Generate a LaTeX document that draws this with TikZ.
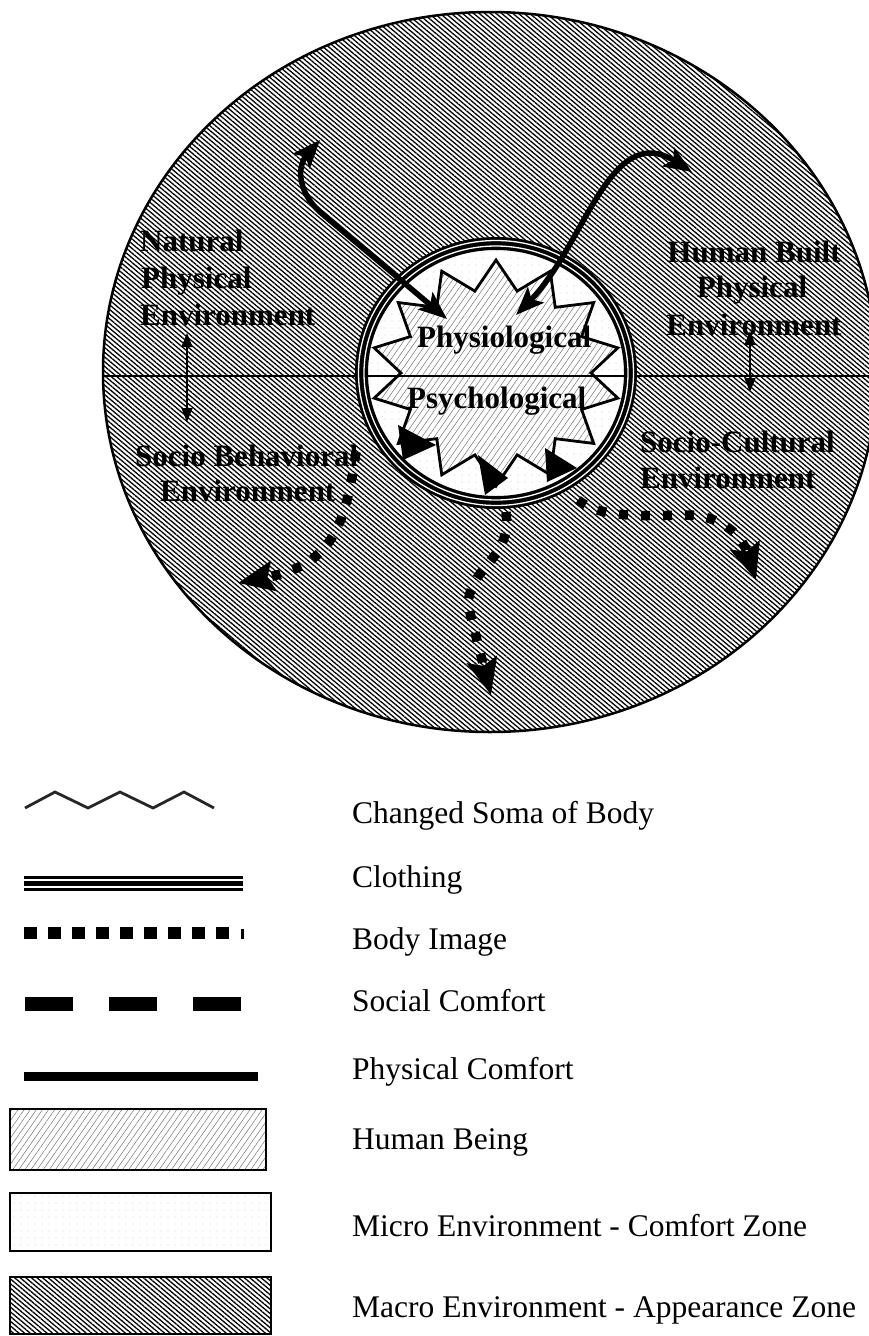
\documentclass[tikz,border=0pt]{standalone}
\usepackage{fontspec}
\setmainfont{Liberation Serif}
\usetikzlibrary{arrows.meta,patterns.meta}
\newcommand\mystarpath{(-90:125 and 113) \foreach \i in {0,...,13} { -- ({-90+\i*360/14}:125 and 113) -- ({-90+(\i+0.5)*360/14}:95 and 84) } -- cycle}
\begin{document}
\begin{tikzpicture}[x=1pt,y=-1pt,
  lab/.style={font=\bfseries\fontsize{31}{31}\selectfont, inner sep=0pt},
  leg/.style={font=\fontsize{31.5}{31.5}\selectfont, inner sep=0pt, anchor=west},
  macro/.style={pattern={Lines[angle=-40,distance=3.6pt,line width=1.3pt]}, pattern color=black},
  human/.style={pattern={Lines[angle=55,distance=5pt,line width=0.5pt]}, pattern color=black!55},
  micro/.style={pattern={Dots[distance=7pt,radius=0.45pt]}, pattern color=black!50},
  solidarrow/.style={line width=5.5pt, {Stealth[length=28pt,width=22pt,inset=6pt]}-{Stealth[length=28pt,width=22pt,inset=6pt]}},
  dotarrow/.style={line width=9.5pt, dash pattern=on 9pt off 13pt, -{Stealth[length=36pt,width=30pt,inset=6pt]}},
  thinarrow/.style={line width=1.5pt, {Triangle[length=14pt,width=11pt]}-{Triangle[length=14pt,width=11pt]}},
  boxframe/.style={line width=2.5pt},
]
\useasboundingbox (0,0) rectangle (868,1336);

% macro environment
\draw[line width=2.5pt, macro] (490,372) ellipse [x radius=387, y radius=360];

% micro environment
\fill[white] (496,373) ellipse [x radius=130, y radius=125];
\fill[micro] (496,373) ellipse [x radius=130, y radius=125];

% human being (star)
\begin{scope}[shift={(496,373)}]
  \fill[white] \mystarpath;
  \fill[human] \mystarpath;
\end{scope}

% horizontal line
\coordinate (hl) at (103,376);
\coordinate (hr) at (877,376);
\draw[line width=2pt] (hl) -- (hr);

\begin{scope}[shift={(496,373)}]
  \draw[line width=2.8pt, line join=miter] \mystarpath;
\end{scope}

% clothing ring
\draw[line width=13pt] (496,373) ellipse [x radius=134.5, y radius=129.5];
\draw[line width=1.3pt, white] (496,373) ellipse [x radius=137.5, y radius=132.5];
\draw[line width=1.3pt, white] (496,373) ellipse [x radius=132, y radius=127];

% black arrow tips inside the star
\fill (398,425) -- (436,445) -- (403,460) -- cycle;
\fill (478,455) -- (508,478) -- (485,495) -- cycle;
\fill (545,448) -- (577,468) -- (547,482) -- cycle;

% labels
\node[lab, anchor=base west] (nat1) at (140,251) {Natural};
\node[lab, anchor=base west] (nat2) at (141,288) {Physical};
\node[lab, anchor=base west] (nat3) at (140,325) {Environment};
\node[lab, anchor=base] (hb1) at (754,262) {Human Built};
\node[lab, anchor=base] (hb2) at (752,297) {Physical};
\node[lab, anchor=base] (hb3) at (754,335) {Environment};
\node[lab, anchor=base west] (sb1) at (135,466) {Socio Behavioral};
\node[lab, anchor=base west] (sb2) at (160,501) {Environment};
\node[lab, anchor=base west] (sc1) at (640,452) {Socio-Cultural};
\node[lab, anchor=base west] (sc2) at (640,488) {Environment};
\node[lab, anchor=base west] (phy) at (417,347) {Physiological};
\node[lab, anchor=base west] (psy) at (407,408) {Psychological};

% thin double arrows
\coordinate (v1a) at (187,333);
\coordinate (v1b) at (187,422);
\coordinate (v2a) at (750,331);
\coordinate (v2b) at (750,392);
\draw[thinarrow] (v1a) -- (v1b);
\draw[thinarrow] (v2a) -- (v2b);

% physical comfort arrows
\coordinate (a1s) at (320,140);
\coordinate (a1e) at (447,319);
\draw[solidarrow] (a1s) .. controls (298,165) and (296,190) .. (320,212) -- (a1e);
\coordinate (a2s) at (516,315);
\coordinate (a2e) at (692,172);
\draw[solidarrow] (a2s) .. controls (585,245) and (610,120) .. (a2e);

% body image arrows
\coordinate (d1s) at (356,452);
\coordinate (d1e) at (238,583);
\draw[dotarrow] (d1s) .. controls (345,530) and (330,565) .. (d1e);
\coordinate (d2s) at (506,512);
\coordinate (d2e) at (491,695);
\draw[dotarrow] (d2s) .. controls (512,560) and (470,565) .. (468,605) -- (d2e);
\coordinate (d3s) at (578,500);
\coordinate (d3e) at (756,580);
\draw[dotarrow] (d3s) .. controls (600,518) and (640,516) .. (690,515) .. controls (715,516) and (740,530) .. (d3e);

% legend symbols
\draw[line width=2.8pt, black!85] (25,808) -- (55,792) -- (88,808) -- (120,792) -- (153,808) -- (184,792) -- (214,808);
\draw[line width=3pt] (24,877.5) -- (243,877.5);
\draw[line width=5pt] (24,883.5) -- (243,883.5);
\draw[line width=3pt] (24,889.5) -- (243,889.5);
\foreach \k in {0,...,8} { \fill (24+24*\k,927) rectangle ++(12.5,12); }
\fill (241,929) rectangle (243.5,939);
\fill (25,997) rectangle (73,1011);
\fill (109,997) rectangle (157,1011);
\fill (193,997) rectangle (241,1011);
\fill (24,1072) rectangle (258,1081);
\draw[boxframe, human] (10,1109) rectangle (266,1170);
\draw[boxframe, micro] (10,1193) rectangle (271,1251);
\draw[boxframe, macro] (10,1277) rectangle (271,1334);

% legend texts
\node[leg] (l1) at (352,816) {Changed Soma of Body};
\node[leg] (l2) at (352,880) {Clothing};
\node[leg] (l3) at (352,942) {Body Image};
\node[leg] (l4) at (352,1001) {Social Comfort};
\node[leg] (l5) at (352,1072) {Physical Comfort};
\node[leg] (l6) at (352,1142) {Human Being};
\node[leg] (l7) at (352,1226) {Micro Environment - Comfort Zone};
\node[leg] (l8) at (352,1310) {Macro Environment - Appearance Zone};
\end{tikzpicture}
\end{document}
